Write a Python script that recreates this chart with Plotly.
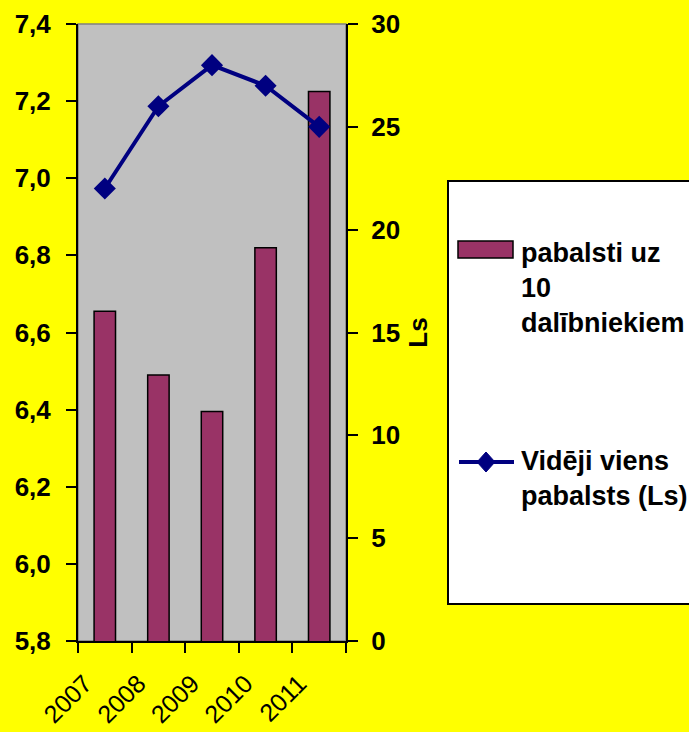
import plotly.graph_objects as go

years = ["2007", "2008", "2009", "2010", "2011"]
bar_values = [6.655, 6.49, 6.395, 6.82, 7.225]
line_values = [22.0, 26.0, 28.0, 27.0, 25.0]
left_ticks = [5.8, 6.0, 6.2, 6.4, 6.6, 6.8, 7.0, 7.2, 7.4]
right_ticks = [0, 5, 10, 15, 20, 25, 30]
bar_name = "pabalsti uz<br>10<br>dalībniekiem"
line_name = "Vidēji viens<br>pabalsts (Ls)"

W, H = 689, 732
ML, MR, MT, MB = 78, 343, 24, 91
PW = W - ML - MR
PH = H - MT - MB

def px(x):
    return (x - ML) / PW

def py(y):
    return (H - MB - y) / PH

FONT = "Liberation Sans, Arial, sans-serif"
BAR_COLOR = "#993366"
LINE_COLOR = "#000080"

fig = go.Figure()
fig.add_trace(go.Bar(
    x=years, y=bar_values, name=bar_name, yaxis="y",
    marker=dict(color=BAR_COLOR, line=dict(color="black", width=1.5)),
    showlegend=False,
))
fig.add_trace(go.Scatter(
    x=years, y=line_values, name=line_name, yaxis="y2", mode="lines+markers",
    line=dict(color=LINE_COLOR, width=4),
    marker=dict(symbol="diamond", size=17, color=LINE_COLOR),
    showlegend=False,
))

shapes = [
    dict(type="rect", xref="paper", yref="paper", x0=0, x1=1, y0=0, y1=1,
         line=dict(color="#808080", width=1.5), layer="below"),
    dict(type="rect", xref="paper", yref="paper", x0=px(448), x1=px(695),
         y0=py(604), y1=py(181), fillcolor="white",
         line=dict(color="black", width=2)),
    dict(type="rect", xref="paper", yref="paper", x0=px(458), x1=px(513),
         y0=py(258), y1=py(241), fillcolor=BAR_COLOR,
         line=dict(color="black", width=1.5)),
    dict(type="line", xref="paper", yref="paper", x0=px(459), x1=px(514),
         y0=py(462), y1=py(462), line=dict(color=LINE_COLOR, width=4)),
]
cx, cy = 486, 462
dx, dy = 9, 10
path = "M{},{} L{},{} L{},{} L{},{} Z".format(
    px(cx - dx), py(cy), px(cx), py(cy - dy), px(cx + dx), py(cy), px(cx), py(cy + dy))
shapes.append(dict(type="path", xref="paper", yref="paper", path=path,
                   fillcolor=LINE_COLOR, line=dict(color=LINE_COLOR, width=1)))

annotations = [
    dict(text="<b>" + bar_name + "</b>", xref="paper", yref="paper",
         x=px(519), y=py(288), xanchor="left", yanchor="middle", align="left",
         showarrow=False, font=dict(family=FONT, size=27, color="black")),
    dict(text="<b>" + line_name + "</b>", xref="paper", yref="paper",
         x=px(519), y=py(478), xanchor="left", yanchor="middle", align="left",
         showarrow=False, font=dict(family=FONT, size=27, color="black")),
]

fig.update_layout(
    width=W, height=H,
    margin=dict(l=ML, r=MR, t=MT, b=MB, autoexpand=False),
    paper_bgcolor="#FFFF00",
    plot_bgcolor="#C0C0C0",
    separators=", ",
    bargap=0.6,
    showlegend=False,
    font=dict(family=FONT, color="black"),
    xaxis=dict(
        type="category", tickson="boundaries", ticks="outside", ticklen=10,
        tickwidth=2, tickcolor="black", showline=True, linecolor="black",
        linewidth=2, showgrid=False, tickangle=-45,
        ticklabelstandoff=16, ticklabelshift=-20,
        tickfont=dict(family=FONT, size=25, color="black"),
    ),
    yaxis=dict(
        range=[5.8, 7.4], tickvals=left_ticks, tickformat=".1f",
        ticks="outside", ticklen=10, tickwidth=2, tickcolor="black",
        showline=True, linecolor="black", linewidth=2, showgrid=False,
        zeroline=False, ticklabelstandoff=10,
        tickfont=dict(family=FONT, size=26, color="black", weight="bold"),
    ),
    yaxis2=dict(
        range=[0, 30], tickvals=right_ticks, overlaying="y", side="right",
        ticks="outside", ticklen=10, tickwidth=2, tickcolor="black",
        showline=True, linecolor="black", linewidth=2, showgrid=False,
        zeroline=False, ticklabelstandoff=8,
        tickfont=dict(family=FONT, size=26, color="black", weight="bold"),
        title=dict(text="<b>Ls</b>", standoff=10,
                   font=dict(family=FONT, size=26, color="black")),
    ),
    shapes=shapes,
    annotations=annotations,
)

fig.write_html("out.html", config={"displayModeBar": False},
               post_script="document.body.style.margin='0';document.body.style.padding='0';")
